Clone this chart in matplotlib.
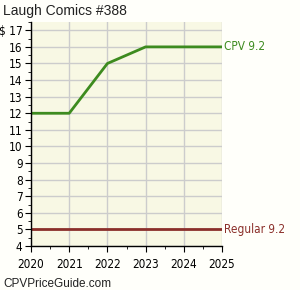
import matplotlib

matplotlib.use("Agg")
import matplotlib.pyplot as plt
from matplotlib.ticker import MultipleLocator

years = [2020, 2021, 2022, 2023, 2024, 2025]
cpv_92 = [12, 12, 15, 16, 16, 16]
regular_92 = [5, 5, 5, 5, 5, 5]
y_ticks = list(range(4, 18))

GREEN = "#3d8b1f"
RED = "#8b2f2a"

fig = plt.figure(figsize=(3.0, 2.9), dpi=100, facecolor="#fffffa")
ax = fig.add_axes([31 / 300, 1 - 246 / 290, 191 / 300, 224 / 290])
ax.set_facecolor("#f8f8e4")

ax.plot(years, cpv_92, color=GREEN, linewidth=2)
ax.plot(years, regular_92, color=RED, linewidth=2)

ax.set_xlim(2020, 2025)
ax.set_ylim(4, 17.5)
ax.set_xticks(years)
ax.set_yticks(y_ticks)
ax.xaxis.set_minor_locator(MultipleLocator(0.5))
ax.yaxis.set_minor_locator(MultipleLocator(0.5))
ax.grid(True, which="major", color="#cccccc", linewidth=1)
ax.set_axisbelow(True)

for side in ("top", "right"):
    ax.spines[side].set_visible(False)
for side in ("left", "bottom"):
    ax.spines[side].set_color("#000000")
    ax.spines[side].set_linewidth(1)

ax.tick_params(axis="both", which="major", length=4, labelsize=8.5, colors="#000000", pad=2)
ax.tick_params(axis="both", which="minor", length=2, colors="#000000")
ax.tick_params(axis="x", pad=5)

labels = [str(v) for v in y_ticks]
labels[-1] = "$ 17"
ax.set_yticklabels(labels)
for lab in ax.get_xticklabels() + ax.get_yticklabels():
    lab.set_fontstretch("condensed")

ax.text(2025.05, cpv_92[-1], "CPV 9.2", color=GREEN, fontsize=8.5, va="center", ha="left", fontstretch="condensed")
ax.text(2025.05, regular_92[-1], "Regular 9.2", color=RED, fontsize=8.5, va="center", ha="left", fontstretch="condensed")

fig.text(3 / 300, 1 - 11 / 290, "Laugh Comics #388", fontsize=10, va="center", ha="left", color="#222222", family="Liberation Sans")
fig.text(3 / 300, 1 - 284 / 290, "CPVPriceGuide.com", fontsize=8.5, va="center", ha="left", color="#222222", family="Liberation Sans")

fig.savefig("out.png", dpi=100, facecolor=fig.get_facecolor())
